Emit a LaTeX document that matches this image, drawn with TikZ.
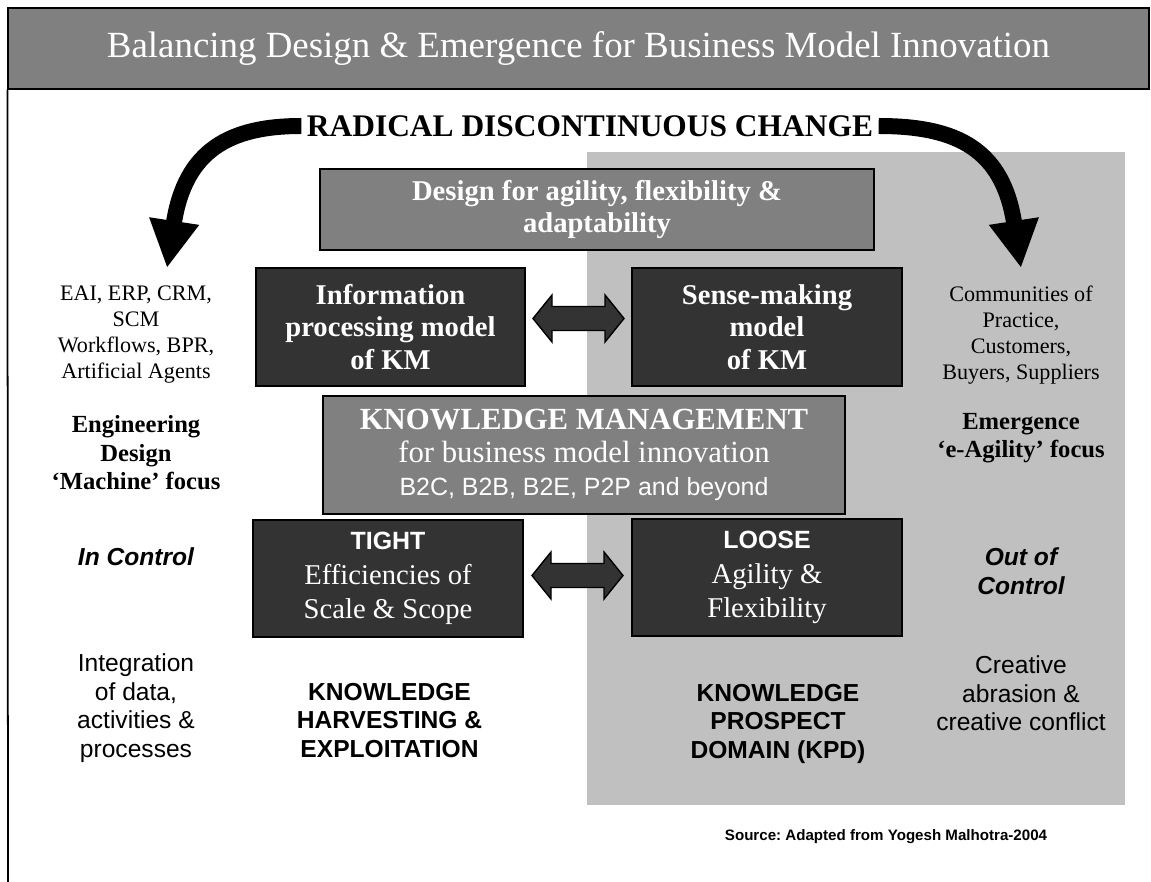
\documentclass[tikz,border=0pt]{standalone}
\usepackage{fontspec}
\setmainfont{Liberation Serif}
\newfontfamily\arialfont{Liberation Sans}
\usepackage{tikz}
\definecolor{midgrey}{gray}{0.5}
\definecolor{darkfill}{HTML}{333333}
\definecolor{kpdgrey}{HTML}{C0C0C0}
\tikzset{grey box/.style={draw=black,line width=0.8pt,fill=midgrey,text=white,align=center,inner sep=0pt},
dark box/.style={draw=black,line width=0.8pt,fill=darkfill,text=white,align=center,inner sep=0pt},
side text/.style={align=center,inner sep=0pt,font=\fontsize{12.6}{14.7}\selectfont},
side bold/.style={align=center,inner sep=0pt,font=\fontsize{14}{16.2}\selectfont\bfseries},
side sans/.style={align=center,inner sep=0pt,font=\arialfont\fontsize{14}{16.2}\selectfont},
side sans bold/.style={align=center,inner sep=0pt,font=\arialfont\fontsize{14}{16.2}\selectfont\bfseries},
side sans italic/.style={align=center,inner sep=0pt,font=\arialfont\fontsize{14}{16.2}\selectfont\bfseries\itshape},
big arrow/.style={line width=0.32cm,-{Triangle[length=0.95cm,width=0.94cm]}},
}
\usetikzlibrary{positioning,arrows.meta,calc}
\newcommand{\twoway}[1]{\filldraw[fill=darkfill,draw=black,line width=0.8pt] (#1) ++(-45.5,0) -- ++(19,-23.5) -- ++(0,11.5) -- ++(53,0) -- ++(0,-11.5) -- ++(19,23.5) -- ++(-19,23.5) -- ++(0,-11.5) -- ++(-53,0) -- ++(0,11.5) -- cycle;}

\begin{document}
\begin{tikzpicture}[x=0.02cm,y=-0.02cm]
\clip (0,0) rectangle (1151,881);

%% background
\fill[kpdgrey] (587,152) rectangle (1125,805);
\node[grey box,minimum width=22.82cm,minimum height=1.62cm,font=\fontsize{21}{24}\selectfont] (title) at (578.5,48.5) {Balancing Design \& Emergence for Business Model Innovation};
\coordinate (framebot) at (8,890);
\draw[line width=1pt] (title.south west) -- (framebot);

%% radical change
\node[inner sep=3pt,font=\fontsize{17.9}{20}\selectfont\bfseries] (radical) at (590,126) {RADICAL DISCONTINUOUS CHANGE};
\coordinate (lefttip) at (167,268);
\coordinate (righttip) at (1021,268);
\draw[big arrow] (radical.west) .. controls (230,126) and (185,150) .. (lefttip);
\draw[big arrow] (radical.east) .. controls (958,126) and (1003,150) .. (righttip);

%% boxes
\node[grey box,minimum width=11.08cm,minimum height=1.62cm,font=\fontsize{16.3}{18.7}\selectfont\bfseries] (design) at (597,209.5) {Design for agility, flexibility \&\\adaptability};
\node[dark box,minimum width=5.38cm,minimum height=2.36cm,font=\fontsize{16.3}{18.4}\selectfont\bfseries] (info) at (390.5,327) {Information\\processing model\\of KM};
\node[dark box,minimum width=5.4cm,minimum height=2.36cm,font=\fontsize{16.3}{18.4}\selectfont\bfseries] (sense) at (767,327) {Sense-making\\model\\of KM};
\node[grey box,minimum width=10.44cm,minimum height=2.36cm,font=\fontsize{17.5}{19}\selectfont] (km) at (584,455) {\textbf{KNOWLEDGE MANAGEMENT}\\for business model innovation\\{\arialfont\fontsize{14.2}{16}\selectfont B2C, B2B, B2E, P2P and beyond}};
\node[dark box,minimum width=5.4cm,minimum height=2.34cm,font=\fontsize{16.3}{19.5}\selectfont] (tight) at (388,578.5) {{\arialfont\bfseries\fontsize{14.2}{16}\selectfont TIGHT}\\Efficiencies of\\Scale \& Scope};
\node[dark box,minimum width=5.4cm,minimum height=2.34cm,font=\fontsize{16.3}{19.5}\selectfont] (loose) at (767,577.5) {{\arialfont\bfseries\fontsize{14.2}{16}\selectfont LOOSE}\\Agility \&\\Flexibility};

\twoway{$(info.east)!0.5!(sense.west)+(0,-8.5)$}
\twoway{$(tight.east)!0.5!(loose.west)+(0,-2.5)$}

%% left column
\node[side text] (tools) at (136,334.5) {EAI, ERP, CRM,\\SCM\\Workflows, BPR,\\Artificial Agents};
\node[side bold] (machine) at (136,453) {Engineering\\Design\\‘Machine’ focus};
\node[side sans italic] (incontrol) at (136,557) {In Control};
\node[side sans] (integration) at (136,708) {Integration\\of data,\\activities \&\\processes};
\node[side sans bold] (harvest) at (389.5,720.5) {KNOWLEDGE\\HARVESTING \&\\EXPLOITATION};

%% right column
\node[side text] (communities) at (1021,335) {Communities of\\Practice,\\Customers,\\Buyers, Suppliers};
\node[side bold] (emergence) at (1021,438) {Emergence\\‘e-Agility’ focus};
\node[side sans italic] (outcontrol) at (1021,571) {Out of\\Control};
\node[side sans] (creative) at (1021,693.5) {Creative\\abrasion \&\\creative conflict};
\node[side sans bold] (prospect) at (778,723.5) {KNOWLEDGE\\PROSPECT\\DOMAIN (KPD)};

\node[inner sep=0pt,font=\arialfont\bfseries\fontsize{8.6}{10}\selectfont] (source) at (886,837) {Source:\ Adapted from Yogesh Malhotra-2004};
\end{tikzpicture}
\end{document}
